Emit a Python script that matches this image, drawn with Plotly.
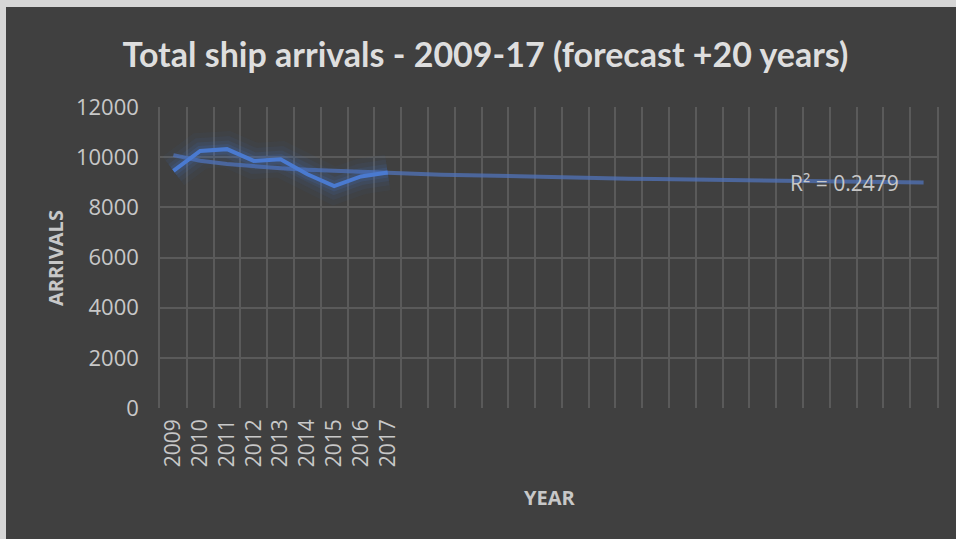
import numpy as np
import plotly.graph_objects as go

# Annual totals, 2009-2017
years = ["2009", "2010", "2011", "2012", "2013", "2014", "2015", "2016", "2017"]
arrivals = [9450, 10250, 10320, 9850, 9920, 9320, 8850, 9230, 9390]
forecast_periods = 20
r_squared_label = "R² = 0.2479"

# Category slots: observed years followed by unlabeled forecast slots
n_slots = len(years) + forecast_periods
slot_labels = years + [""] * forecast_periods
x_obs = list(range(len(years)))
x_all = np.arange(n_slots)

# Logarithmic trend line fitted on the observed years, extended over the forecast slots
b, a = np.polyfit(np.log(np.array(x_obs) + 1), arrivals, 1)
trend = a + b * np.log(x_all + 1)

BG = "#404040"
GRID = "#5a5a5a"
TEXT = "#c8c8c8"
FONT = "Open Sans"

fig = go.Figure()

# trend line
fig.add_trace(go.Scatter(
    x=x_all, y=trend, mode="lines",
    line=dict(color="rgba(80,115,185,0.75)", width=4),
    hoverinfo="skip", showlegend=False,
))

# soft glow under the data line
for w, alpha in [(36, 0.05), (26, 0.07), (17, 0.11), (10, 0.16)]:
    fig.add_trace(go.Scatter(
        x=x_obs, y=arrivals, mode="lines",
        line=dict(color=f"rgba(68,114,196,{alpha})", width=w),
        hoverinfo="skip", showlegend=False,
    ))

# data line
fig.add_trace(go.Scatter(
    x=x_obs, y=arrivals, mode="lines",
    line=dict(color="#4a7ad0", width=4),
    name="Arrivals", showlegend=False,
))

L, R, T, B = 160, 19, 107, 131
W, H = 956, 539
pw, ph = W - L - R, H - T - B


def px_x(px):
    return (px - L) / pw


def px_y(py):
    return (H - B - py) / ph


fig.update_layout(
    width=W, height=H,
    margin=dict(l=L, r=R, t=T, b=B, pad=0),
    paper_bgcolor="#d6d6d6",
    plot_bgcolor=BG,
    font=dict(family=FONT, color=TEXT),
    title=dict(
        text="Total ship arrivals - 2009-17 (forecast +20 years)",
        font=dict(family="Lato", size=34, color="#dedede", weight="bold"),
        x=px_x(485.5), xref="paper", xanchor="center",
        y=1 - 55 / H, yref="container", yanchor="middle",
    ),
    xaxis=dict(
        range=[-0.5, n_slots - 0.5],
        tickmode="array", tickvals=list(x_all), ticktext=slot_labels,
        tickangle=-90, tickfont=dict(family=FONT, size=21, color=TEXT),
        showgrid=False, zeroline=False, showline=False, ticks="",
        ticklabelstandoff=6,
        minor=dict(tick0=-0.5, dtick=1, showgrid=True, gridcolor=GRID, gridwidth=1.5),
    ),
    yaxis=dict(
        range=[0, 12000], dtick=2000, tickformat="d",
        tickfont=dict(family=FONT, size=22, color=TEXT),
        showgrid=True, gridcolor=GRID, gridwidth=1.5,
        zeroline=False, ticks="",
        # plot-area side borders coincide with the outer category boundaries
        showline=True, mirror=True, linecolor=GRID, linewidth=1.5,
        ticklabelstandoff=15,
    ),
    shapes=[
        # dark chart body inside the light frame
        dict(type="rect", xref="paper", yref="paper", layer="below",
             x0=px_x(6), x1=px_x(W + 2), y0=px_y(H + 2), y1=px_y(7),
             fillcolor=BG, line=dict(width=0)),
    ],
    annotations=[
        dict(text="<b>ARRIVALS</b>", xref="paper", yref="paper",
             x=px_x(55), y=px_y(258), textangle=-90, showarrow=False,
             xanchor="center", yanchor="middle",
             font=dict(family=FONT, size=20, color=TEXT)),
        dict(text="<b>YEAR</b>", xref="paper", yref="paper",
             x=px_x(549), y=px_y(497), showarrow=False,
             xanchor="center", yanchor="middle",
             font=dict(family=FONT, size=20, color=TEXT)),
        dict(text=r_squared_label, xref="x", yref="y",
             x=25.03, y=8960, showarrow=False,
             xanchor="center", yanchor="middle",
             font=dict(family=FONT, size=21, color=TEXT)),
    ],
)

fig.write_html("out.html")
